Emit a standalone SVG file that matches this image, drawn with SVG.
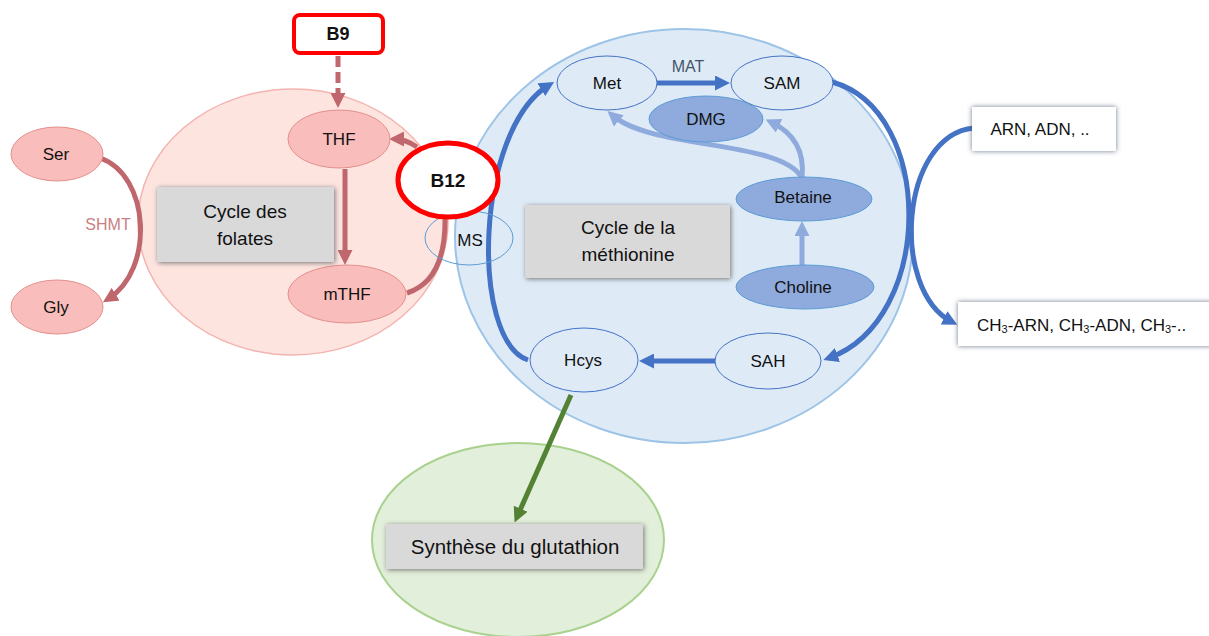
<svg xmlns="http://www.w3.org/2000/svg" width="1209" height="636" viewBox="0 0 1209 636">
<style>
text{font-family:"Liberation Sans",Arial,sans-serif;fill:#111;text-anchor:middle;dominant-baseline:central}
.lbl{font-size:17px}
.big{font-size:19px}
.pink{fill:#F9BDBB;stroke:#E48F8C;stroke-width:1}
.blueN{fill:#DEEBF7;stroke:#4472C4;stroke-width:1}
.dark{fill:#8FAADC;stroke:#5B9BD5;stroke-width:1}
.gbox{fill:#D9D9D9;filter:url(#sh)}
.wbox{fill:#fff;filter:url(#shb)}
.rose{fill:none;stroke:#C0676E;stroke-width:5}
.blue{fill:none;stroke:#4472C4;stroke-width:5}
.lblue{fill:none;stroke:#8FAADC;stroke-width:5}
.green{fill:none;stroke:#548235;stroke-width:5}
</style>
<defs>
<filter id="sh" x="-20%" y="-30%" width="140%" height="160%">
<feDropShadow dx="1" dy="1" stdDeviation="2.5" flood-color="#6b6b6b" flood-opacity="0.9"/>
</filter>
<filter id="shb" x="-20%" y="-30%" width="140%" height="160%">
<feDropShadow dx="0" dy="0" stdDeviation="2.5" flood-color="#44546A" flood-opacity="0.8"/>
</filter>
<marker id="mR" viewBox="0 0 10 10" refX="6" refY="5" markerWidth="3" markerHeight="3" orient="auto"><path d="M0,0 L10,5 L0,10 z" fill="#C0676E"/></marker>
<marker id="mB" viewBox="0 0 10 10" refX="6" refY="5" markerWidth="3" markerHeight="3" orient="auto"><path d="M0,0 L10,5 L0,10 z" fill="#4472C4"/></marker>
<marker id="mL" viewBox="0 0 10 10" refX="6" refY="5" markerWidth="3" markerHeight="3" orient="auto"><path d="M0,0 L10,5 L0,10 z" fill="#8FAADC"/></marker>
<marker id="mG" viewBox="0 0 10 10" refX="6" refY="5" markerWidth="3" markerHeight="3" orient="auto"><path d="M0,0 L10,5 L0,10 z" fill="#548235"/></marker>
</defs>

<g id="cycle-folates-area">
<ellipse cx="293" cy="222" rx="155" ry="133" fill="#FDE4DF" stroke="#F4B3AF" stroke-width="1.5"/>
</g>
<g id="cycle-methionine-area">
<ellipse cx="684" cy="236" rx="229" ry="207" fill="#DEEBF7" stroke="#9DC3E6" stroke-width="2"/>
</g>
<g id="glutathion-area">
<ellipse cx="518" cy="540" rx="146" ry="97" fill="#E2EFDA" stroke="#A9D18E" stroke-width="2"/>
</g>

<g id="connectors">
<line x1="338" y1="56" x2="338" y2="102" class="rose" stroke-dasharray="11,5" marker-end="url(#mR)"/>
<path d="M100,158 C150,175 155,270 108,299" class="rose" marker-end="url(#mR)"/>
<line x1="345" y1="169" x2="345" y2="259" class="rose" marker-end="url(#mR)"/>
<path d="M417,147 C408,141 402,139 395,139" class="rose" marker-end="url(#mR)"/>
<path d="M407,293 C432,285 446,260 445,216" class="rose"/>
<path d="M528,360 C470,340 475,130 549,85" class="blue" marker-end="url(#mB)"/>
<line x1="657" y1="83" x2="724" y2="83" class="blue" marker-end="url(#mB)"/>
<path d="M832,82 C935,110 935,320 829,358" class="blue" marker-end="url(#mB)"/>
<line x1="715" y1="361" x2="645" y2="361" class="blue" marker-end="url(#mB)"/>
<path d="M974,128 C900,135 890,290 952,322" class="blue" marker-end="url(#mB)"/>
<line x1="802" y1="266" x2="802" y2="227" class="lblue" marker-end="url(#mL)"/>
<path d="M802,178 C782,140 652,150 612,115" class="lblue" marker-end="url(#mL)"/>
<path d="M802,178 C805,150 792,132 771,122" class="lblue" marker-end="url(#mL)"/>
<line x1="571" y1="395" x2="517" y2="517" class="green" marker-end="url(#mG)"/>
</g>

<g id="node-B9">
<rect x="294" y="15" width="89" height="38" rx="6" fill="#fff" stroke="#FF0000" stroke-width="4"/>
<text x="338" y="34" font-size="18" font-weight="bold">B9</text>
</g>
<g id="node-THF">
<ellipse cx="339" cy="139" rx="51" ry="29" class="pink"/>
<text x="339" y="139" class="lbl">THF</text>
</g>
<g id="node-mTHF">
<ellipse cx="347" cy="294" rx="59" ry="29" class="pink"/>
<text x="347" y="294" class="lbl">mTHF</text>
</g>
<g id="node-Ser">
<ellipse cx="57" cy="154" rx="46" ry="27" class="pink"/>
<text x="56" y="154" class="lbl">Ser</text>
</g>
<g id="node-Gly">
<ellipse cx="57" cy="307" rx="46" ry="27" class="pink"/>
<text x="56" y="307" class="lbl">Gly</text>
</g>
<g id="label-SHMT">
<text x="108" y="224" font-size="16" style="fill:#C97E82">SHMT</text>
</g>
<g id="box-folates">
<rect x="157" y="187" width="177" height="75" class="gbox"/>
<text x="245" y="211" class="big">Cycle des</text>
<text x="245" y="238" class="big">folates</text>
</g>
<g id="node-MS">
<ellipse cx="469" cy="238" rx="44" ry="27" fill="none" stroke="#5B9BD5" stroke-width="1"/>
<text x="470" y="240" class="lbl">MS</text>
</g>
<g id="node-B12">
<ellipse cx="448" cy="180" rx="50" ry="37" fill="#fff" stroke="#FF0000" stroke-width="5"/>
<text x="448" y="180" font-size="19" font-weight="bold">B12</text>
</g>
<g id="node-Met">
<ellipse cx="607" cy="83" rx="50" ry="27" class="blueN"/>
<text x="607" y="83" class="lbl">Met</text>
</g>
<g id="label-MAT">
<text x="688" y="66" font-size="16" style="fill:#44546A">MAT</text>
</g>
<g id="node-SAM">
<ellipse cx="782" cy="83" rx="51" ry="27" class="blueN"/>
<text x="782" y="83" class="lbl">SAM</text>
</g>
<g id="node-DMG">
<ellipse cx="706" cy="119" rx="57" ry="23" class="dark"/>
<text x="706" y="119" class="lbl">DMG</text>
</g>
<g id="node-Betaine">
<ellipse cx="804" cy="199" rx="68" ry="22" class="dark"/>
<text x="803" y="197" class="lbl">Betaine</text>
</g>
<g id="node-Choline">
<ellipse cx="805" cy="287" rx="69" ry="22" class="dark"/>
<text x="803" y="287" class="lbl">Choline</text>
</g>
<g id="box-methionine">
<rect x="525" y="205" width="205" height="73" class="gbox"/>
<text x="628" y="227" class="big">Cycle de la</text>
<text x="628" y="254" class="big">méthionine</text>
</g>
<g id="node-Hcys">
<ellipse cx="584" cy="360" rx="54" ry="32" class="blueN"/>
<text x="583" y="360" class="lbl">Hcys</text>
</g>
<g id="node-SAH">
<ellipse cx="768" cy="361" rx="53" ry="28" class="blueN"/>
<text x="768" y="361" class="lbl">SAH</text>
</g>
<g id="node-ARN">
<rect x="972" y="107" width="144" height="44" class="wbox"/>
<text x="1040" y="129" class="lbl">ARN, ADN, ..</text>
</g>
<g id="node-CH3">
<rect x="958" y="302" width="260" height="44" class="wbox"/>
<text x="977" y="325" class="lbl" style="text-anchor:start">CH<tspan font-size="11" dy="4">3</tspan><tspan dy="-4">-ARN, CH</tspan><tspan font-size="11" dy="4">3</tspan><tspan dy="-4">-ADN, CH</tspan><tspan font-size="11" dy="4">3</tspan><tspan dy="-4">-..</tspan></text>
</g>
<g id="box-glutathion">
<rect x="386" y="524" width="257" height="45" class="gbox"/>
<text x="515" y="546" font-size="20.5">Synthèse du glutathion</text>
</g>
</svg>
